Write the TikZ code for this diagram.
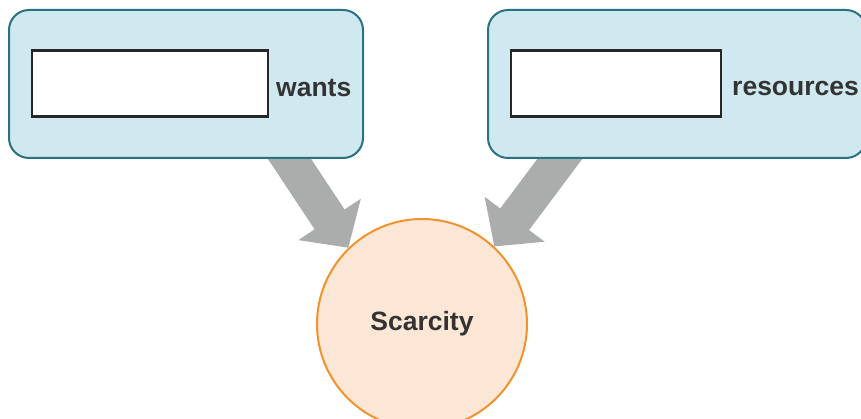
\documentclass[tikz,border=0pt]{standalone}
\usepackage{fontspec}
\setmainfont{Liberation Sans}
\usetikzlibrary{arrows.meta}
\definecolor{boxfill}{RGB}{208,232,240}
\definecolor{boxline}{RGB}{40,114,130}
\definecolor{circfill}{RGB}{252,230,213}
\definecolor{circline}{RGB}{240,146,46}
\definecolor{arrowgray}{RGB}{171,173,172}
\definecolor{textgray}{RGB}{51,51,51}
\tikzset{
  groupbox/.style={draw=boxline, line width=2pt, fill=boxfill, rounded corners=20pt,
    minimum height=148pt, inner sep=0pt},
  blank/.style={draw=black!85, line width=2.8pt, fill=white, minimum height=66pt, inner sep=0pt},
  lbl/.style={font=\bfseries\fontsize{26.5}{30}\selectfont, text=textgray, inner sep=0pt},
  bigarrow/.style={draw=arrowgray, line width=36pt,
    -{Triangle[length=34pt,width=73pt,fill=arrowgray]}},
}
\begin{document}
\begin{tikzpicture}[x=1pt,y=-1pt]
\useasboundingbox (0,0) rectangle (861,419);
% target circle
\node[circle, draw=circline, line width=2pt, fill=circfill, minimum size=210pt, inner sep=0pt,
  lbl] (scar) at (422,324) {Scarcity};
% start points of the two block arrows, hidden under the boxes
\coordinate (lstart) at (277,140);
\coordinate (rstart) at (574,140);
\draw[bigarrow] (lstart) -- (scar.134);
\draw[bigarrow] (rstart) -- (scar.47);
% the two grouping boxes
\node[groupbox, minimum width=354pt] (lbox) at (186,84) {};
\node[groupbox, minimum width=378pt] (rbox) at (677,84) {};
\node[blank, minimum width=236pt] (lblank) at (150,83.5) {};
\node[blank, minimum width=210pt] (rblank) at (616,83.5) {};
\node[lbl, anchor=west] (wants) at (276,88) {wants};
\node[lbl, anchor=west] (res) at (732,88) {resources};
\end{tikzpicture}
\end{document}
